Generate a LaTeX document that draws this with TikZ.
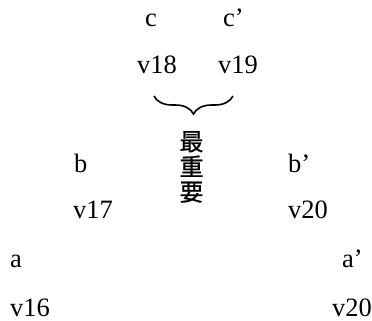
\documentclass[tikz,border=0pt]{standalone}
\usepackage{fontspec}
\setmainfont{Liberation Serif}
\newfontfamily\cjk[FakeBold=0.8]{Noto Sans CJK TC}
\usetikzlibrary{decorations.pathreplacing}
\tikzset{
  lbl/.style={anchor=base west, inner sep=0pt, font=\fontsize{26.5}{28}\selectfont},
  bracestyle/.style={decorate, decoration={brace, amplitude=18pt, mirror}, line width=1.6pt},
  cjklbl/.style={anchor=north, inner sep=0pt, align=center, font=\cjk\fontsize{24}{25.2}\selectfont}
}
\begin{document}
\begin{tikzpicture}[x=1pt,y=1pt]
\useasboundingbox (0,0) rectangle (372,-321);
\node[lbl] (c)   at (145,-27) {c};
\node[lbl] (cp)  at (223,-27) {c’};
\node[lbl] (v18) at (137,-74) {v18};
\node[lbl] (v19) at (218,-74) {v19};
\node[lbl] (b)   at (74,-172) {b};
\node[lbl] (bp)  at (288,-172) {b’};
\node[lbl] (v17) at (73,-218) {v17};
\node[lbl] (v20a) at (288,-218) {v20};
\node[lbl] (a)   at (10,-267) {a};
\node[lbl] (ap)  at (342,-267) {a’};
\node[lbl] (v16) at (10,-316) {v16};
\node[lbl] (v20b) at (332,-316) {v20};
\coordinate (bl) at (154,-96);
\coordinate (br) at (233,-96);
\draw[bracestyle] (bl) -- (br);
\node[cjklbl] (imp) at (191.5,-131) {最\\重\\要};
\end{tikzpicture}
\end{document}
